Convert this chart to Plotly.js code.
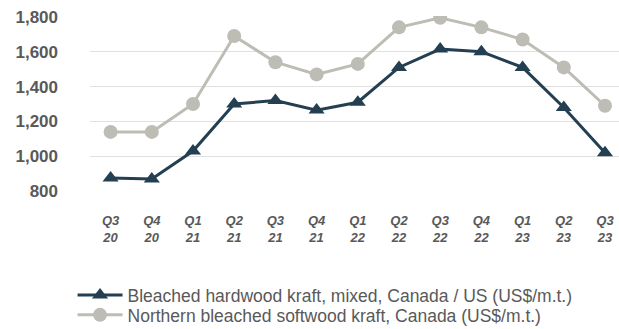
<!DOCTYPE html>
<html>
<head>
<meta charset="utf-8">
<script src="https://cdn.plot.ly/plotly-3.0.1.min.js"></script>
<style>html,body{margin:0;padding:0;background:#fff;}#chart{width:619px;height:329px;}</style>
</head>
<body>
<div id="chart"></div>
<script>
const quarters = ["Q3<br>20","Q4<br>20","Q1<br>21","Q2<br>21","Q3<br>21","Q4<br>21","Q1<br>22","Q2<br>22","Q3<br>22","Q4<br>22","Q1<br>23","Q2<br>23","Q3<br>23"];
const hardwood = [875, 870, 1030, 1300, 1320, 1265, 1310, 1510, 1615, 1600, 1510, 1280, 1020];
const softwood = [1140, 1140, 1300, 1690, 1540, 1470, 1530, 1740, 1795, 1740, 1670, 1510, 1290];
const hardwoodName = "Bleached hardwood kraft, mixed, Canada / US (US$/m.t.)";
const softwoodName = "Northern bleached softwood kraft, Canada (US$/m.t.)";
const yTicks = [800, 1000, 1200, 1400, 1600, 1800];

const traces = [
  {x: quarters, y: hardwood, name: hardwoodName, type: "scatter", mode: "lines+markers", legend: "legend",
   line: {color: "#233f51", width: 3}, marker: {symbol: "triangle-up", size: 14, color: "#233f51"}},
  {x: quarters, y: softwood, name: softwoodName, type: "scatter", mode: "lines+markers", legend: "legend2",
   line: {color: "#bdbdb5", width: 3}, marker: {symbol: "circle", size: 14, color: "#bdbdb5"}}
];

const legendFont = {family: "Liberation Sans, Arial", size: 17.5, color: "#595959"};
const layout = {
  width: 619, height: 329,
  margin: {l: 90, r: 0, t: 16, b: 137},
  paper_bgcolor: "#ffffff", plot_bgcolor: "#ffffff",
  showlegend: true,
  legend: {yref: "container", x: -0.033, xanchor: "left", y: 0.1033, yanchor: "middle",
    font: legendFont, itemwidth: 45, bgcolor: "rgba(0,0,0,0)"},
  legend2: {yref: "container", x: -0.033, xanchor: "left", y: 0.0426, yanchor: "middle",
    font: legendFont, itemwidth: 45, bgcolor: "rgba(0,0,0,0)"},
  xaxis: {type: "category", range: [-0.5, 12.34], showgrid: false, zeroline: false, showline: false,
    ticks: "", ticklabelstandoff: 19,
    tickfont: {family: "Liberation Sans, Arial", size: 13, color: "#595959", weight: "bold", style: "italic"}},
  yaxis: {range: [795, 1805], tickvals: yTicks, ticktext: yTicks.map(v => v.toLocaleString("en-US")),
    showgrid: true, gridcolor: "#e0e0e0", gridwidth: 1.5, zeroline: false, showline: false,
    ticks: "", ticklabelstandoff: 31,
    tickfont: {family: "Liberation Sans, Arial", size: 17, color: "#595959", weight: "bold"}}
};

Plotly.newPlot("chart", traces, layout, {displayModeBar: false, staticPlot: true});
</script>
</body>
</html>
